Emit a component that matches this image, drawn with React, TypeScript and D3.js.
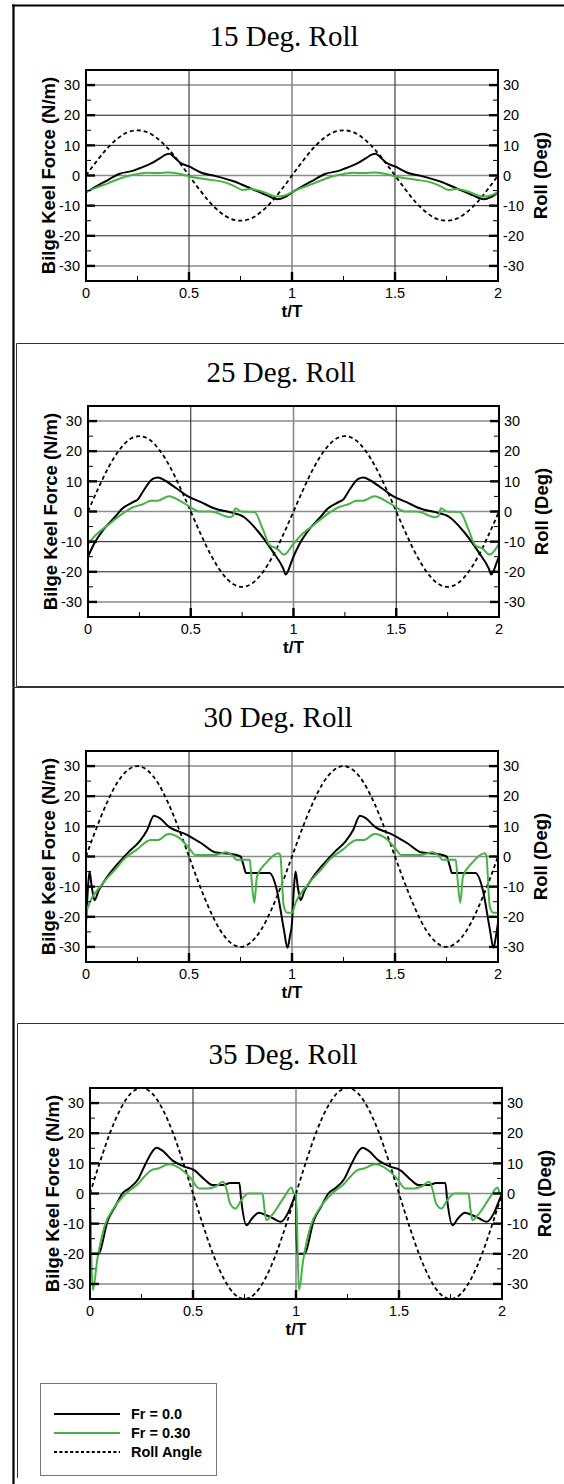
import React from "react";
import * as d3 from "d3";

// Time axis (t/T) and force / roll axis ticks
const tMajor = [0, 0.5, 1, 1.5, 2];
const tMajorLabels = ["0", "0.5", "1", "1.5", "2"];
const tMinor = [0.25, 0.75, 1.25, 1.75];
const vMajor = [-30, -20, -10, 0, 10, 20, 30];
const vMajorLabels = ["-30", "-20", "-10", "0", "10", "20", "30"];
const vMinor = [-25, -15, -5, 5, 15, 25];

// Phase samples over one roll cycle for the imposed roll angle
const rollPhase = [0, 0.05, 0.1, 0.15, 0.2, 0.25, 0.3, 0.35, 0.4, 0.45, 0.5, 0.55, 0.6, 0.65, 0.7, 0.75, 0.8, 0.85, 0.9, 0.95, 1];
const roll15 = [0, 4.6, 8.8, 12.1, 14.3, 15, 14.3, 12.1, 8.8, 4.6, 0, -4.6, -8.8, -12.1, -14.3, -15, -14.3, -12.1, -8.8, -4.6, 0];
const roll25 = [0, 7.7, 14.7, 20.2, 23.8, 25, 23.8, 20.2, 14.7, 7.7, 0, -7.7, -14.7, -20.2, -23.8, -25, -23.8, -20.2, -14.7, -7.7, 0];
const roll30 = [0, 9.3, 17.6, 24.3, 28.5, 30, 28.5, 24.3, 17.6, 9.3, 0, -9.3, -17.6, -24.3, -28.5, -30, -28.5, -24.3, -17.6, -9.3, 0];
const roll35 = [0, 10.8, 20.6, 28.3, 33.3, 35, 33.3, 28.3, 20.6, 10.8, 0, -10.8, -20.6, -28.3, -33.3, -35, -33.3, -28.3, -20.6, -10.8, 0];

// Bilge keel force over one roll cycle, [t/T, N/m]
const force15Fr0: [number, number][] = [[0, -5.6], [0.05, -3.6], [0.106, -1.5], [0.16, 0.5], [0.23, 1.6], [0.26, 2.4], [0.316, 4], [0.36, 5.8], [0.39, 7], [0.405, 7.2], [0.43, 6], [0.456, 4.3], [0.5, 3], [0.56, 0.9], [0.63, -0.2], [0.72, -2], [0.8, -4.3], [0.875, -6.5], [0.93, -7.9], [0.965, -7.2], [1, -5.6]];
const force15Fr30: [number, number][] = [[0, -5.5], [0.05, -4], [0.106, -2.6], [0.19, -0.4], [0.25, 0.5], [0.3, 0.9], [0.35, 0.8], [0.4, 1], [0.456, 0.5], [0.51, -0.4], [0.6, -1.4], [0.67, -2.2], [0.72, -3.5], [0.76, -4.8], [0.8, -4.5], [0.85, -5.2], [0.93, -7], [0.97, -6.5], [1, -5.5]];

const force25Fr0: [number, number][] = [[0, -15], [0.026, -11.2], [0.079, -5.7], [0.13, -1.9], [0.166, 0.9], [0.219, 3.1], [0.245, 4.2], [0.27, 6.9], [0.315, 10.8], [0.34, 11.3], [0.376, 10.2], [0.43, 7.7], [0.48, 5.3], [0.55, 3.1], [0.62, 0.9], [0.69, -0.2], [0.76, -1.9], [0.83, -6.8], [0.9, -13.4], [0.95, -18.9], [0.962, -20.9], [0.99, -16.7], [1, -15]];
const force25Fr30: [number, number][] = [[0, -10.7], [0.044, -7.4], [0.096, -4.6], [0.166, -0.8], [0.219, 1.4], [0.27, 2.5], [0.306, 3.6], [0.34, 3.6], [0.394, 5.1], [0.446, 3.6], [0.5, 1.4], [0.54, 0], [0.6, 0], [0.69, -1.9], [0.705, -1.5], [0.717, 1.1], [0.744, 0], [0.81, -0.2], [0.85, -5.7], [0.884, -11.2], [0.92, -12.3], [0.954, -14.3], [1, -10.7]];

const force30Fr0: [number, number][] = [[0, -22], [0.008, -12], [0.017, -5], [0.028, -10], [0.042, -14.5], [0.06, -11.5], [0.105, -6.6], [0.157, -2.2], [0.21, 1.7], [0.26, 5], [0.297, 8.8], [0.33, 13.5], [0.358, 12.7], [0.4, 10], [0.49, 7.2], [0.56, 4.4], [0.63, 1.3], [0.7, 0.9], [0.75, 0], [0.765, -3], [0.777, -5.5], [0.84, -5.5], [0.89, -5.5], [0.926, -11], [0.96, -24], [0.978, -30.3], [0.99, -26.5], [1, -22]];
const force30Fr30: [number, number][] = [[0, -18.7], [0.017, -15.4], [0.07, -9.9], [0.14, -4.4], [0.19, -0.5], [0.245, 2.2], [0.314, 5.5], [0.35, 5.5], [0.4, 7.5], [0.454, 6.1], [0.507, 2.2], [0.53, 0.5], [0.63, 0.5], [0.68, 1.4], [0.716, 0], [0.73, -1.1], [0.795, -1.1], [0.803, -7], [0.817, -15.4], [0.83, -6.6], [0.873, -2.2], [0.934, 1.1], [0.943, 0.5], [0.96, -16.5], [0.978, -18.7], [1, -18.7]];

const force35Fr0: [number, number][] = [[0, 0], [0.004, -20], [0.04, -20], [0.087, -8.8], [0.122, -4.4], [0.157, 0], [0.19, 1.7], [0.236, 5], [0.27, 9.9], [0.323, 15.2], [0.35, 14.3], [0.4, 11], [0.454, 9], [0.507, 7.7], [0.56, 4.4], [0.594, 2.8], [0.646, 2.8], [0.68, 3.5], [0.725, 3.5], [0.734, -2.2], [0.76, -10.5], [0.786, -8.3], [0.82, -6.4], [0.856, -7.2], [0.89, -8.3], [0.926, -9.4], [0.96, -6.6], [0.987, -2.2], [1, 0]];
const force35Fr30: [number, number][] = [[0, 0], [0.014, -32], [0.035, -22], [0.07, -11], [0.12, -4.4], [0.175, 0], [0.227, 2.8], [0.297, 7.7], [0.33, 8.3], [0.384, 9.7], [0.437, 8.3], [0.49, 5], [0.53, 1.7], [0.576, 1.7], [0.611, 2.4], [0.646, 3.9], [0.664, 1.1], [0.68, -3.3], [0.707, -5], [0.734, -2.2], [0.769, 0], [0.838, 0], [0.845, -4], [0.856, -8.8], [0.89, -6.6], [0.943, -1.1], [0.978, 2], [0.99, 0], [1, 0]];

const titles = ["15 Deg. Roll", "25 Deg. Roll", "30 Deg. Roll", "35 Deg. Roll"];
const rolls = [roll15, roll25, roll30, roll35];
const fr0Series = [force15Fr0, force25Fr0, force30Fr0, force35Fr0];
const fr30Series = [force15Fr30, force25Fr30, force30Fr30, force35Fr30];

const legendLabels = ["Fr = 0.0", "Fr = 0.30", "Roll Angle"];

// Plot boxes for the four stacked panels
const boxes = [
  { left: 86, right: 498, top: 70, titleX: 284 },
  { left: 88, right: 499, top: 406, titleX: 281 },
  { left: 86, right: 498, top: 751, titleX: 278 },
  { left: 90, right: 502, top: 1088, titleX: 283 },
];
const PLOT_H = 211;

const GREEN = "#43b443";
const SANS = "'Liberation Sans', Arial, Helvetica, sans-serif";
const SERIF = "'Liberation Serif', 'Times New Roman', serif";

type Pt = [number, number];

// The record covers one cycle; the plot shows it over two consecutive cycles.
function overTwoCycles(pts: Pt[]): Pt[] {
  return [...pts, ...pts.slice(1).map(([t, v]) => [t + 1, v] as Pt)];
}

function Panel({ idx }: { idx: number }) {
  const b = boxes[idx];
  const bottom = b.top + PLOT_H;
  const x = d3.scaleLinear().domain([0, 2]).range([b.left, b.right]);
  const y = d3.scaleLinear().domain([-35, 35]).range([bottom, b.top]);
  const line = d3
    .line<Pt>()
    .x((d) => x(d[0]))
    .y((d) => y(d[1]))
    .curve(d3.curveMonotoneX);
  const rollPts: Pt[] = rollPhase.map((t, i) => [t, rolls[idx][i]]);
  const clipId = `plot-clip-${idx}`;

  const greyH = new Set([-30, 0, 30]);

  return (
    <g>
      <defs>
        <clipPath id={clipId}>
          <rect x={b.left} y={b.top} width={b.right - b.left} height={PLOT_H} />
        </clipPath>
      </defs>
      <text
        x={b.titleX}
        y={b.top - 24.5}
        textAnchor="middle"
        fontFamily={SERIF}
        fontSize={29}
        fill="#000"
      >
        {titles[idx]}
      </text>

      {/* grid */}
      {vMajor.map((v) => (
        <line
          key={`h${v}`}
          x1={b.left}
          x2={b.right}
          y1={y(v)}
          y2={y(v)}
          stroke={greyH.has(v) ? "#8a8a8a" : "#1a1a1a"}
          strokeWidth={greyH.has(v) ? 1.4 : 1}
        />
      ))}
      {tMajor.slice(1, -1).map((t) => (
        <line
          key={`v${t}`}
          x1={x(t)}
          x2={x(t)}
          y1={b.top}
          y2={bottom}
          stroke={t === 1 ? "#8a8a8a" : "#1a1a1a"}
          strokeWidth={t === 1 ? 1.6 : 1}
        />
      ))}

      {/* series */}
      <g clipPath={`url(#${clipId})`} fill="none">
        <path
          d={line(overTwoCycles(rollPts)) || ""}
          stroke="#000"
          strokeWidth={1.8}
          strokeDasharray="4 3"
        />
        <path d={line(overTwoCycles(fr0Series[idx])) || ""} stroke="#000" strokeWidth={2} strokeLinejoin="round" />
        <path d={line(overTwoCycles(fr30Series[idx])) || ""} stroke={GREEN} strokeWidth={2} strokeLinejoin="round" />
      </g>

      {/* ticks */}
      {vMajor.map((v) => (
        <g key={`mt${v}`}>
          <line x1={b.left} x2={b.left + 9} y1={y(v)} y2={y(v)} stroke="#000" strokeWidth={2.4} />
          <line x1={b.right - 9} x2={b.right} y1={y(v)} y2={y(v)} stroke="#000" strokeWidth={2.4} />
        </g>
      ))}
      {vMinor.map((v) => (
        <g key={`nt${v}`}>
          <line x1={b.left} x2={b.left + 5} y1={y(v)} y2={y(v)} stroke="#000" strokeWidth={1} />
          <line x1={b.right - 5} x2={b.right} y1={y(v)} y2={y(v)} stroke="#000" strokeWidth={1} />
        </g>
      ))}
      {tMajor.slice(1, -1).map((t) => (
        <line key={`xt${t}`} x1={x(t)} x2={x(t)} y1={bottom} y2={bottom - 9} stroke="#000" strokeWidth={2.4} />
      ))}
      {tMinor.map((t) => (
        <line key={`xn${t}`} x1={x(t)} x2={x(t)} y1={bottom} y2={bottom - 5} stroke="#000" strokeWidth={1} />
      ))}

      {/* frame */}
      <rect
        x={b.left}
        y={b.top}
        width={b.right - b.left}
        height={PLOT_H}
        fill="none"
        stroke="#000"
        strokeWidth={2}
      />

      {/* tick labels */}
      {vMajor.map((v, i) => (
        <g key={`lab${v}`} fontFamily={SANS} fontSize={14.5} fill="#000">
          <text x={b.left - 6} y={y(v) + 5.2} textAnchor="end">
            {vMajorLabels[i]}
          </text>
          <text x={b.right + 5} y={y(v) + 5.2} textAnchor="start">
            {vMajorLabels[i]}
          </text>
        </g>
      ))}
      {tMajor.map((t, i) => (
        <text
          key={`tl${t}`}
          x={x(t)}
          y={bottom + 17}
          textAnchor="middle"
          fontFamily={SANS}
          fontSize={14.5}
          fill="#000"
        >
          {tMajorLabels[i]}
        </text>
      ))}

      {/* axis titles */}
      <text
        x={(b.left + b.right) / 2}
        y={bottom + 36}
        textAnchor="middle"
        fontFamily={SANS}
        fontWeight="bold"
        fontSize={17}
        fill="#000"
      >
        t/T
      </text>
      <text
        transform={`translate(${b.left - 38},${b.top + PLOT_H / 2}) rotate(-90)`}
        textAnchor="middle"
        dominantBaseline="central"
        fontFamily={SANS}
        fontWeight="bold"
        fontSize={18.5}
        fill="#000"
      >
        Bilge Keel Force (N/m)
      </text>
      <text
        transform={`translate(${b.right + 42},${b.top + PLOT_H / 2}) rotate(-90)`}
        textAnchor="middle"
        dominantBaseline="central"
        fontFamily={SANS}
        fontWeight="bold"
        fontSize={18.5}
        fill="#000"
      >
        Roll (Deg)
      </text>
    </g>
  );
}

function Legend() {
  const x0 = 40;
  const y0 = 1383;
  const rows = [1414, 1433, 1452];
  const styles = [
    { stroke: "#000", dash: undefined as string | undefined },
    { stroke: GREEN, dash: undefined as string | undefined },
    { stroke: "#000", dash: "3 2.4" },
  ];
  return (
    <g>
      <rect x={x0 + 0.5} y={y0 + 0.5} width={176} height={92} fill="#fff" stroke="#777" strokeWidth={1} />
      {legendLabels.map((lab, i) => (
        <g key={lab}>
          <line
            x1={54}
            x2={120}
            y1={rows[i]}
            y2={rows[i]}
            stroke={styles[i].stroke}
            strokeWidth={2}
            strokeDasharray={styles[i].dash}
          />
          <text x={131} y={rows[i] + 5.2} fontFamily={SANS} fontWeight="bold" fontSize={14.5} fill="#000">
            {lab}
          </text>
        </g>
      ))}
    </g>
  );
}

export default function App() {
  return (
    <svg
      width={564}
      height={1484}
      viewBox="0 0 564 1484"
      style={{ position: "absolute", left: 0, top: 0, background: "#fff" }}
    >
      <rect x={0} y={0} width={564} height={1484} fill="#fff" />
      {/* panel frames */}
      <line x1={12} x2={564} y1={5.5} y2={5.5} stroke="#000" strokeWidth={2} />
      <line x1={13.5} x2={13.5} y1={4.5} y2={1484} stroke="#000" strokeWidth={2.2} />
      <path d="M564,343.5 H16.5 V686.5 H564" fill="none" stroke="#333" strokeWidth={1} />
      <line x1={13} x2={564} y1={687.5} y2={687.5} stroke="#333" strokeWidth={1} />
      <path d="M564,1023.5 H17.5 V1478" fill="none" stroke="#333" strokeWidth={1} />

      {boxes.map((_, i) => (
        <Panel key={i} idx={i} />
      ))}
      <Legend />
    </svg>
  );
}
